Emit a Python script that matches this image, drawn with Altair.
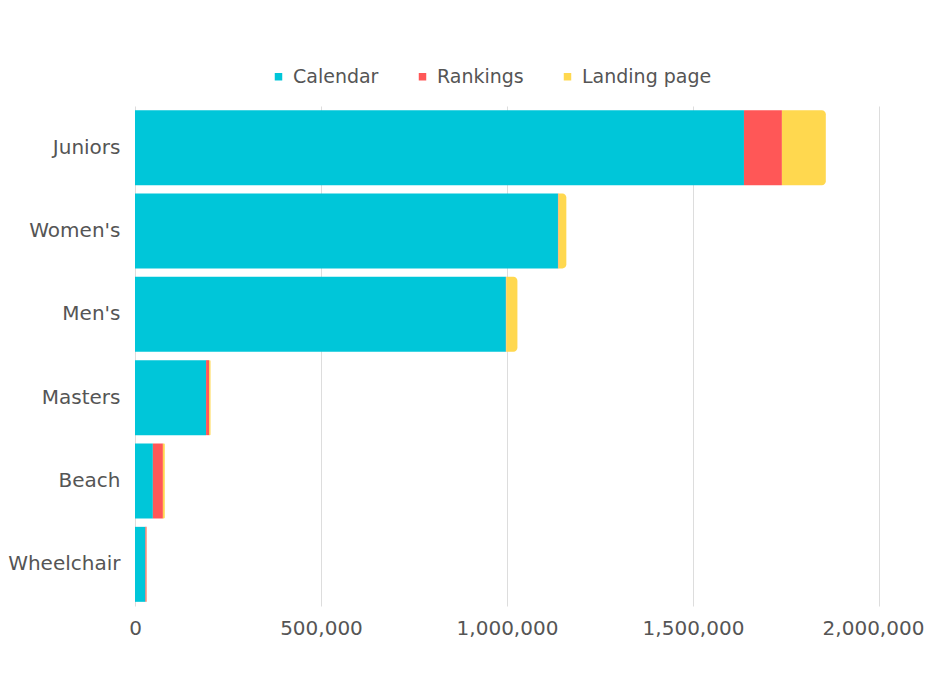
import altair as alt
import pandas as pd

categories = ["Juniors", "Women's", "Men's", "Masters", "Beach", "Wheelchair"]
series = ["Calendar", "Rankings", "Landing page"]
calendar = [1637000, 1137000, 997000, 191000, 48000, 28000]
rankings = [102000, 1500, 1000, 8000, 27000, 3000]
landing = [118000, 21000, 30000, 4000, 5000, 500]
colors = ["#00C6D9", "#FF5757", "#FFD84F"]
x_ticks = [0, 500000, 1000000, 1500000, 2000000]

rows = []
for i, c in enumerate(categories):
    for j, (s, vals) in enumerate(zip(series, [calendar, rankings, landing])):
        rows.append({"category": c, "series": s, "order": j, "value": vals[i]})
df = pd.DataFrame(rows)

FONT = "DejaVu Sans"

base = alt.Chart(df).transform_stack(
    stack="value", as_=["x0", "x1"], groupby=["category"],
    sort=[alt.SortField("order", order="ascending")]
)

enc = dict(
    y=alt.Y("category:N", sort=categories, title=None,
            scale=alt.Scale(paddingInner=0.1, paddingOuter=0.05),
            axis=alt.Axis(domain=False, ticks=False, labelFontSize=20, labelFont=FONT,
                          labelColor="#555555", labelPadding=15)),
    x=alt.X("x0:Q", title=None,
            scale=alt.Scale(domain=[0, 2000000], nice=False),
            axis=alt.Axis(values=x_ticks, format=",d", domain=False, ticks=False,
                          labelFontSize=20, labelFont=FONT, labelColor="#555555",
                          labelPadding=12, grid=True, gridColor="#DDDDDD", gridWidth=1,
                          labelFlush=False,
                          labelOffset=alt.ExprRef("datum.value >= 2000000 ? -6 : 0"))),
    x2="x1:Q",
    color=alt.Color("series:N", scale=alt.Scale(domain=series, range=colors),
                    legend=alt.Legend(title=None, orient="none", direction="horizontal",
                                      legendX=134, legendY=-39,
                                      symbolType="square", symbolSize=56,
                                      symbolStrokeWidth=0,
                                      labelFontSize=19, labelFont=FONT,
                                      labelColor="#555555", labelOffset=5,
                                      columnPadding=34)),
)

inner = base.transform_filter(alt.datum.series != "Landing page").mark_bar().encode(**enc)
outer = base.transform_filter(alt.datum.series == "Landing page").mark_bar(
    cornerRadiusTopRight=4, cornerRadiusBottomRight=4).encode(**enc)

chart = alt.layer(inner, outer).properties(
    width=744, height=500,
    autosize=alt.AutoSizeParams(type="none"),
    padding={"left": 127, "top": 98, "right": 47, "bottom": 55},
).configure(background="white").configure_view(strokeWidth=0, stroke=None)

chart.save("out.html", embed_options={"renderer": "svg", "actions": False})
